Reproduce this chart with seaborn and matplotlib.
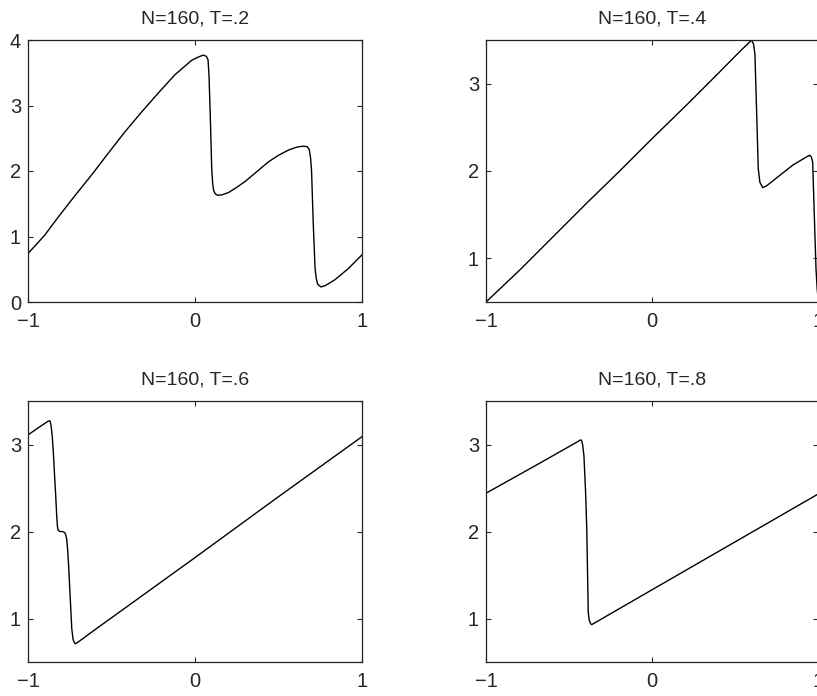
import matplotlib
matplotlib.use("Agg")
import matplotlib.pyplot as plt
import seaborn as sns

# --- data (x in [-1, 1]) ---
x_t2 = [-1.0, -0.9, -0.818, -0.72, -0.619, -0.52, -0.419, -0.32, -0.22, -0.12, -0.02,
        0.02, 0.05, 0.068, 0.078, 0.084, 0.092, 0.10, 0.106, 0.112, 0.122, 0.135, 0.16,
        0.2, 0.25, 0.30, 0.37, 0.44, 0.50, 0.56, 0.61, 0.65, 0.672, 0.684, 0.692, 0.698,
        0.708, 0.719, 0.726, 0.735, 0.754, 0.78, 0.838, 0.918, 1.0]
y_t2 = [0.74, 1.02, 1.30, 1.62, 1.94, 2.27, 2.60, 2.90, 3.19, 3.47, 3.69,
        3.74, 3.77, 3.75, 3.70, 3.45, 2.80, 2.04, 1.80, 1.70, 1.65, 1.63, 1.635,
        1.67, 1.75, 1.84, 1.99, 2.14, 2.24, 2.32, 2.365, 2.38, 2.37, 2.33, 2.20, 2.00,
        1.20, 0.51, 0.36, 0.27, 0.23, 0.25, 0.34, 0.51, 0.72]

x_t4 = [-1.0, -0.8, -0.6, -0.4, -0.2, 0.0, 0.2, 0.4, 0.53, 0.59, 0.60, 0.612, 0.62,
        0.63, 0.64, 0.65, 0.667, 0.69, 0.73, 0.85, 0.93, 0.95, 0.96, 0.968, 0.976,
        0.988, 0.995, 1.0]
y_t4 = [0.50, 0.86, 1.24, 1.62, 1.99, 2.37, 2.74, 3.12, 3.37, 3.48, 3.50, 3.45, 3.34,
        2.70, 2.03, 1.87, 1.81, 1.83, 1.89, 2.07, 2.16, 2.18, 2.16, 2.10, 1.60,
        0.88, 0.65, 0.55]

x_t6 = [-1.0, -0.94, -0.878, -0.868, -0.862, -0.855, -0.848, -0.841, -0.834, -0.828,
        -0.824, -0.818, -0.808, -0.795, -0.782, -0.775, -0.768, -0.763, -0.758, -0.748,
        -0.738, -0.73, -0.722, -0.715, -0.699, -0.6, -0.419, 0.0, 0.5, 1.0]
y_t6 = [3.11, 3.19, 3.27, 3.27, 3.22, 3.10, 2.90, 2.65, 2.41, 2.18,
        2.06, 2.01, 2.00, 2.00, 1.99, 1.97, 1.91, 1.80, 1.65, 1.27,
        0.885, 0.76, 0.72, 0.71, 0.73, 0.87, 1.12, 1.70, 2.40, 3.09]

x_t8 = [-1.0, -0.7, -0.45, -0.434, -0.425, -0.418, -0.41, -0.40, -0.393, -0.388,
        -0.384, -0.378, -0.37, -0.363, -0.34, 0.0, 0.5, 1.0]
y_t8 = [2.44, 2.76, 3.03, 3.05, 3.05, 3.00, 2.87, 2.45, 2.03, 1.50,
        1.07, 0.98, 0.94, 0.93, 0.955, 1.33, 1.88, 2.43]

titles = ["N=160, T=.2", "N=160, T=.4", "N=160, T=.6", "N=160, T=.8"]
xs = [x_t2, x_t4, x_t6, x_t8]
ys = [y_t2, y_t4, y_t6, y_t8]
ylims = [(0, 4), (0.5, 3.5), (0.5, 3.5), (0.5, 3.5)]
yticks = [[0, 1, 2, 3, 4], [1, 2, 3], [1, 2, 3], [1, 2, 3]]

sns.set_style("ticks")
plt.rcParams["font.family"] = ["Liberation Sans", "DejaVu Sans"]

W, H = 817, 696
fig = plt.figure(figsize=(W / 100, H / 100), dpi=100)

# axes boxes in pixels: left, top, right, bottom
# (right column runs just past the canvas edge, as in the original)
boxes = [(28, 40, 362, 302), (486, 40, 818, 302),
         (28, 401, 362, 662), (486, 401, 818, 662)]

for i, (l, t, r, b) in enumerate(boxes):
    ax = fig.add_axes([l / W, 1 - b / H, (r - l) / W, (b - t) / H])
    sns.lineplot(x=xs[i], y=ys[i], ax=ax, color="black", linewidth=1.0,
                 estimator=None, sort=False)
    ax.set_xlim(-1, 1)
    ax.set_ylim(*ylims[i])
    ax.set_xticks([-1, 0, 1])
    ax.set_yticks(yticks[i])
    ax.tick_params(direction="in", top=True, right=True, length=3.5,
                   width=0.8, labelsize=14.5)
    ax.tick_params(axis="x", pad=7.5)
    ax.tick_params(axis="y", pad=5)
    for s in ax.spines.values():
        s.set_linewidth(0.9)
        s.set_color("#222222")
    ax.set_title(titles[i], fontsize=14, pad=12)

fig.savefig("out.png", dpi=100)
plt.close(fig)
